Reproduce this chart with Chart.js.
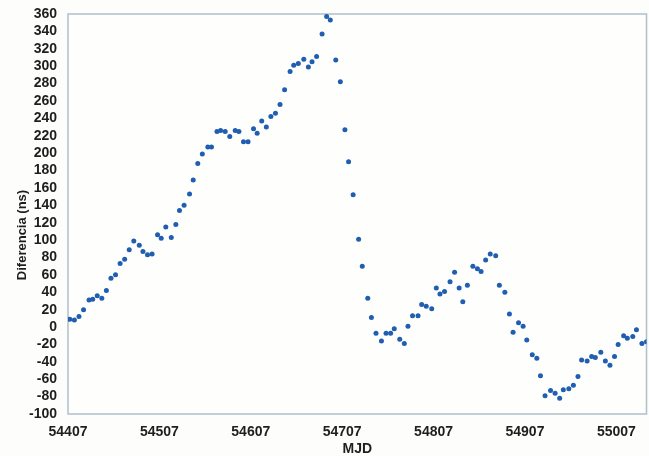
<!DOCTYPE html>
<html>
<head>
<meta charset="utf-8">
<script src="https://cdn.jsdelivr.net/npm/chart.js@4/dist/chart.umd.min.js"></script>
<style>
  html, body { margin: 0; padding: 0; background: #fdfdfb; }
  #wrap { width: 649px; height: 456px; position: relative; }
</style>
</head>
<body>
<div id="wrap"><canvas id="c" width="649" height="456"></canvas></div>
<script>
const mjd = [
  54409, 54414, 54419, 54424, 54430, 54434, 54439, 54444, 54449, 54454,
  54459, 54464, 54469, 54474, 54479, 54485, 54489, 54494, 54499, 54505,
  54509, 54514, 54520, 54525, 54529, 54534, 54540, 54544, 54549, 54554,
  54560, 54564, 54570, 54574, 54579, 54584, 54590, 54594, 54599, 54604,
  54610, 54614, 54619, 54624, 54629, 54634, 54639, 54644, 54650, 54654,
  54659, 54665, 54670, 54674, 54679, 54685, 54690, 54694, 54700, 54705,
  54710, 54714, 54719, 54725, 54729, 54735, 54739, 54744, 54750, 54755,
  54760, 54764, 54770, 54775, 54779, 54784, 54790, 54794, 54799, 54805,
  54810, 54814, 54819, 54825, 54830, 54835, 54839, 54844, 54850, 54855,
  54859, 54864, 54869, 54875, 54879, 54885, 54890, 54894, 54900, 54905,
  54909, 54915, 54920, 54924, 54929, 54935, 54940, 54945, 54949, 54955,
  54960, 54965, 54969, 54975, 54980, 54984, 54990, 54995, 55000, 55005,
  55009, 55015, 55019, 55025, 55029, 55035, 55040
];
const diferencia = [
  9, 8, 12, 20, 31, 32, 36, 33, 42, 56,
  60, 73, 78, 89, 99, 94, 87, 83, 84, 106,
  102, 115, 103, 118, 134, 140, 153, 169, 188, 199,
  207, 207, 225, 226, 225, 219, 226, 225, 213, 213,
  228, 223, 237, 230, 242, 246, 256, 273, 294, 301,
  303, 308, 299, 305, 311, 337, 357, 353, 307, 282,
  227, 190, 152, 101, 70, 33, 11, -7, -16, -7,
  -7, -2, -14, -19, 1, 13, 13, 26, 24, 21,
  45, 38, 41, 52, 63, 45, 29, 48, 70, 67,
  64, 77, 84, 82, 48, 40, 15, -6, 5, 1,
  -15, -32, -36, -56, -79, -73, -76, -82, -72, -71,
  -67, -57, -38, -39, -34, -35, -29, -39, -44, -34,
  -20, -10, -13, -11, -3, -19, -17
];
const xTicks = [54407, 54507, 54607, 54707, 54807, 54907, 55007];
const yMin = -100, yMax = 360, yStep = 20;
const xMin = 54407, xMax = 55040;
const xTitle = 'MJD';
const yTitle = 'Diferencia (ns)';

const points = mjd.map((m, i) => ({ x: m, y: diferencia[i] }));
const FONT = 'Liberation Sans, Arial, sans-serif';

const frame = {
  id: 'frame',
  beforeDatasetsDraw(chart) {
    const { ctx, chartArea: a } = chart;
    ctx.save();
    ctx.fillStyle = '#fefefd';
    ctx.fillRect(a.left, a.top, a.right - a.left, a.bottom - a.top);
    ctx.strokeStyle = '#aebfcd';
    ctx.lineWidth = 1.5;
    ctx.strokeRect(a.left, a.top, a.right - a.left, a.bottom - a.top);
    ctx.restore();
  },
  afterDraw(chart) {
    // y-axis title, placed slightly below the centre as in the reference
    const { ctx, chartArea: a } = chart;
    ctx.save();
    ctx.translate(22, (a.top + a.bottom) / 2 + 21);
    ctx.rotate(-Math.PI / 2);
    ctx.font = 'bold 13px ' + FONT;
    ctx.fillStyle = '#1e1e1e';
    ctx.textAlign = 'center';
    ctx.textBaseline = 'middle';
    ctx.fillText(yTitle, 0, 0);
    ctx.restore();
  }
};

new Chart(document.getElementById('c'), {
  type: 'scatter',
  data: {
    datasets: [{
      data: points,
      backgroundColor: '#1f5eb0',
      borderWidth: 0,
      pointRadius: 2.5,
      pointHoverRadius: 2.5
    }]
  },
  options: {
    responsive: false,
    animation: false,
    events: [],
    layout: { padding: { left: 0, right: 1.6, top: 14, bottom: 0 } },
    plugins: { legend: { display: false }, tooltip: { enabled: false } },
    scales: {
      x: {
        type: 'linear',
        min: xMin, max: xMax,
        grid: { display: false, drawTicks: false, tickLength: 0 },
        border: { display: false },
        afterBuildTicks(scale) { scale.ticks = xTicks.map(v => ({ value: v })); },
        afterFit(scale) { scale.height = 42; scale.paddingLeft = 0; scale.paddingRight = 0; },
        ticks: {
          padding: 10,
          maxRotation: 0,
          autoSkip: false,
          color: '#1e1e1e',
          font: { family: FONT, size: 14, weight: 'bold' },
          callback: v => String(v)
        },
        title: {
          display: true, text: xTitle, color: '#1e1e1e',
          padding: { top: 0, bottom: 0 },
          font: { family: FONT, size: 14, weight: 'bold', lineHeight: 1.0 }
        }
      },
      y: {
        min: yMin, max: yMax,
        grid: { display: false, drawTicks: false, tickLength: 0 },
        border: { display: false },
        afterFit(scale) { scale.width = 68; scale.paddingTop = 0; scale.paddingBottom = 0; },
        ticks: {
          stepSize: yStep,
          padding: 11,
          autoSkip: false,
          color: '#1e1e1e',
          font: { family: FONT, size: 14, weight: 'bold' }
        },
        title: { display: false }
      }
    }
  },
  plugins: [frame]
});
</script>
</body>
</html>
